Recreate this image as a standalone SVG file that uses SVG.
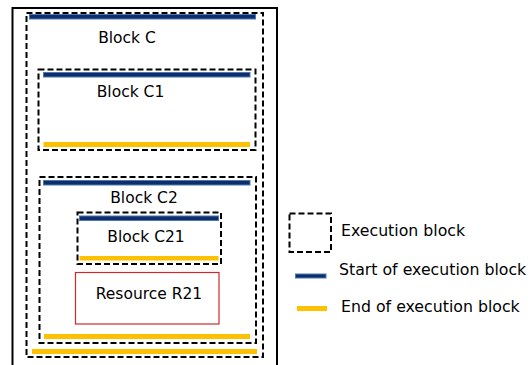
<svg xmlns="http://www.w3.org/2000/svg" width="532" height="365" viewBox="0 0 532 365">
<style>
.dash{fill:none;stroke:#000;stroke-width:2;stroke-dasharray:6 3}
.start{fill:#0f2d6b;stroke:#4a78b5;stroke-width:1}
.end{fill:#ffc000;stroke:none}
text{font-family:"DejaVu Sans",Verdana,sans-serif;font-size:15.5px;fill:#000}
.lg{font-size:15.75px}
</style>
<rect width="532" height="365" fill="#fff"/>
<g id="outer">
<path d="M12.5 366 V8 H277 V366" fill="none" stroke="#000" stroke-width="2"/>
</g>
<g id="blockC">
<rect class="dash" x="26.5" y="13" width="236.5" height="344"/>
<rect class="start" x="29.5" y="14.5" width="226" height="4.5"/>
<text x="127" y="43" text-anchor="middle">Block C</text>
<rect class="end" x="32" y="349" width="225" height="5"/>
</g>
<g id="blockC1">
<rect class="dash" x="38.5" y="69.5" width="217" height="80.5"/>
<rect class="start" x="43.5" y="72.5" width="206.5" height="4.5"/>
<text x="130.5" y="97" text-anchor="middle">Block C1</text>
<rect class="end" x="43.5" y="142" width="206.5" height="5"/>
</g>
<g id="blockC2">
<rect class="dash" x="39.5" y="177" width="216.5" height="166"/>
<rect class="start" x="43.5" y="180.5" width="206.5" height="4.5"/>
<text x="144" y="203" text-anchor="middle">Block C2</text>
<rect class="end" x="44" y="334" width="206" height="5"/>
</g>
<g id="blockC21">
<rect class="dash" x="77.5" y="212.5" width="143.5" height="51.5"/>
<rect class="start" x="79.5" y="216" width="139" height="4.5"/>
<text x="146" y="242" text-anchor="middle">Block C21</text>
<rect class="end" x="79.5" y="256" width="139" height="4.5"/>
</g>
<g id="resourceR21">
<rect x="75.5" y="272.5" width="143.5" height="51.5" fill="#fff" stroke="#d0282c" stroke-width="1.2"/>
<text x="149" y="299" text-anchor="middle">Resource R21</text>
</g>
<g id="legend">
<rect class="dash" x="289.5" y="213.5" width="41.5" height="38.5"/>
<text class="lg" x="341" y="236">Execution block</text>
<rect class="start" x="295.5" y="274" width="30.5" height="4"/>
<text class="lg" x="339" y="275">Start of execution block</text>
<rect class="end" x="297" y="306" width="30" height="5"/>
<text class="lg" x="341" y="312">End of execution block</text>
</g>
<g id="connectors"></g>
</svg>
